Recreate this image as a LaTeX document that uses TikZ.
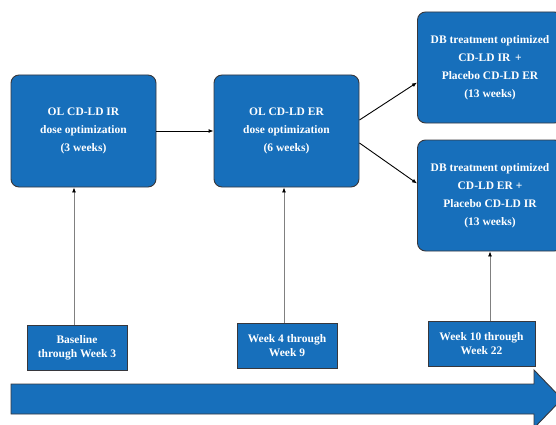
\documentclass[tikz,border=0pt]{standalone}
\usepackage{fontspec}
\setmainfont{Liberation Serif}
\usepackage{xcolor}
\usetikzlibrary{arrows.meta,calc,positioning}
\definecolor{phaseblue}{RGB}{23,111,187}
\definecolor{edgegray}{RGB}{55,55,60}
\tikzset{>=latex}
\tikzset{
  phase/.style={draw=edgegray,line width=0.9pt,fill=phaseblue,rounded corners=8pt,
    minimum width=145pt,minimum height=112pt,align=center,text=white,
    font=\fontsize{11.5}{18}\selectfont\bfseries},
  period/.style={draw=edgegray,line width=0.9pt,fill=phaseblue,
    minimum height=45pt,align=center,text=white,
    font=\fontsize{11.5}{14}\selectfont\bfseries},
  flow/.style={-{Latex[length=5pt,width=4pt]},line width=0.9pt,black},
  tick/.style={-{Latex[length=5pt,width=4pt,color=black]},line width=0.8pt,gray}
}

\begin{document}
\begin{tikzpicture}[x=1pt,y=-1pt]
  \clip (0,0) rectangle (556,425);
  \useasboundingbox (0,0) rectangle (556,425);

  % Phases
  \node[phase] (ir) at (83.5,131) {OL CD-LD IR\\dose optimization\\(3 weeks)};
  \node[phase] (er) at (286.5,131) {OL CD-LD ER\\dose optimization\\(6 weeks)};
  \node[phase,minimum height=111pt] (dbir) at (490,67.5)
    {DB treatment optimized\\CD-LD IR \,+\\Placebo CD-LD ER\\(13 weeks)};
  \node[phase,minimum height=111pt] (dber) at (490,195.5)
    {DB treatment optimized\\CD-LD ER +\\Placebo CD-LD IR\\(13 weeks)};

  % Periods
  \node[period,minimum width=100pt] (base) at (77,348) {Baseline\\through Week 3};
  \node[period,minimum width=100pt] (wk4) at (287,345.5) {Week 4 through\\Week 9};
  \node[period,minimum width=107pt] (wk10) at (481.5,344) {Week 10 through\\Week 22};

  % Time axis
  \draw[draw=edgegray,line width=0.9pt,fill=phaseblue]
    (11,384) -- (534,384) -- (534,370) -- (562,399) -- (534,428)
    -- (534,414) -- (11,414) -- cycle;

  % Lines
  \draw[flow] (ir) -- (er);
  \draw[flow] ([yshift=11pt]er.east) -- ([yshift=-15pt]dbir.west);
  \draw[flow] ([yshift=-12pt]er.east) -- ([yshift=12pt]dber.west);
  \draw[tick] ([xshift=-3pt]base.north) -- ([xshift=-3pt]base.north |- ir.south);
  \draw[tick] ([xshift=-3pt]wk4.north) -- ([xshift=-3pt]wk4.north |- er.south);
  \draw[tick] (wk10.north -| dber.south) -- (dber.south);
\end{tikzpicture}
\end{document}
